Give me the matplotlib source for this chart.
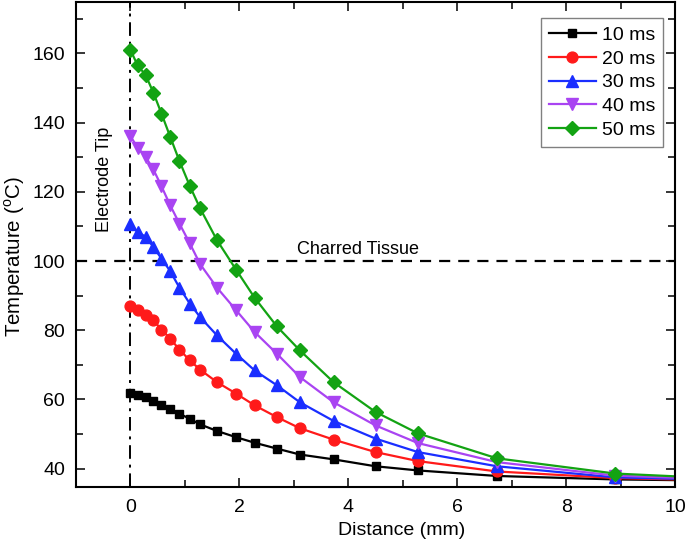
import matplotlib
matplotlib.use("Agg")
import matplotlib.pyplot as plt
from matplotlib.ticker import MultipleLocator

plt.rcParams['font.family'] = ['Liberation Sans', 'DejaVu Sans']
plt.rcParams['mathtext.fontset'] = 'custom'
plt.rcParams['mathtext.rm'] = 'Liberation Sans'

distance = [0.0, 0.13, 0.28, 0.42, 0.57, 0.73, 0.90, 1.09, 1.28, 1.59, 1.94, 2.28,
            2.69, 3.11, 3.73, 4.50, 5.28, 6.73, 8.90, 10.0]

t10 = [61.9, 61.4, 60.7, 59.7, 58.5, 57.3, 55.9, 54.4, 52.8, 50.9, 49.1, 47.5,
       45.8, 44.1, 42.7, 40.7, 39.5, 37.9, 36.9, 36.7]
t20 = [86.9, 85.8, 84.5, 82.9, 80.2, 77.6, 74.4, 71.3, 68.6, 65.0, 61.7, 58.3,
       54.9, 51.7, 48.4, 44.8, 42.2, 39.2, 37.3, 36.9]
t30 = [110.8, 108.4, 107.0, 104.1, 100.7, 97.1, 92.3, 87.7, 83.8, 78.5, 73.2, 68.4,
       64.1, 59.2, 53.8, 48.7, 44.8, 40.7, 37.5, 37.1]
t40 = [136.1, 132.8, 130.1, 126.5, 121.6, 116.1, 110.8, 105.1, 99.1, 92.3, 85.8, 79.5,
       73.2, 66.5, 59.2, 52.5, 47.4, 41.9, 38.0, 37.4]
t50 = [161.0, 156.6, 153.7, 148.7, 142.6, 135.9, 128.9, 121.7, 115.2, 106.0, 97.5, 89.4,
       81.1, 74.2, 65.0, 56.4, 50.2, 43.0, 38.6, 37.8]

series_labels = ['10 ms', '20 ms', '30 ms', '40 ms', '50 ms']
series_values = [t10, t20, t30, t40, t50]
colors = ['#000000', '#FF1A1A', '#1A2EFF', '#A944F2', '#13A313']
markers = ['s', 'o', '^', 'v', 'D']
msizes = [6.3, 7.8, 8.8, 8.8, 6.8]

x_ticks = [0, 2, 4, 6, 8, 10]
y_ticks = [40, 60, 80, 100, 120, 140, 160]

fig = plt.figure(figsize=(6.85, 5.5), dpi=100)
ax = fig.add_axes([76/685, 1 - 486.7/550, 599/685, 485.2/550])

for vals, lab, c, m, ms in zip(series_values, series_labels, colors, markers, msizes):
    ax.plot(distance, vals, color=c, lw=1.6, marker=m, markersize=ms,
            markevery=slice(0, len(distance) - 1), label=lab, clip_on=True)

ax.axvline(0, color='black', lw=1.4, ls=(0, (7, 3, 1.5, 3)), zorder=1)
ax.axhline(100, color='black', lw=1.6, ls=(0, (5, 3.6)), zorder=1)

ax.text(-0.47, 123.7, 'Electrode Tip', rotation=90, ha='center', va='center', fontsize=13)
ax.text(4.17, 102.0, 'Charred Tissue', ha='center', va='baseline', fontsize=13)

ax.set_xlim(-1, 10)
ax.set_ylim(34.8, 175)
ax.set_xticks(x_ticks)
ax.set_yticks(y_ticks)
ax.xaxis.set_minor_locator(MultipleLocator(1))
ax.yaxis.set_minor_locator(MultipleLocator(10))
ax.tick_params(which='both', direction='in', top=True, right=True, width=1.1)
ax.tick_params(which='major', length=6.5)
ax.tick_params(which='minor', length=4.8)
ax.tick_params(axis='x', labelsize=14, pad=9)
ax.tick_params(axis='y', labelsize=14, pad=8)
for s in ax.spines.values():
    s.set_linewidth(1.5)

ax.set_xlabel('Distance (mm)', fontsize=14)
ax.xaxis.set_label_coords((402 - 76) / 599, -0.072)
ax.set_ylabel(r'Temperature ($^{\rm o}$C)', fontsize=14.8)
ax.yaxis.set_label_coords((27 - 76) / 599, 0.4734)

leg = ax.legend(loc='upper right', bbox_to_anchor=(586.7/599, 468.4/485.2),
                borderaxespad=0, fontsize=14, numpoints=1, fancybox=False,
                framealpha=1, edgecolor='#808080', handlelength=2.4,
                handletextpad=0.3, labelspacing=0.32, borderpad=0.4)
leg.get_frame().set_linewidth(1.0)

fig.savefig('out.png', dpi=100)
